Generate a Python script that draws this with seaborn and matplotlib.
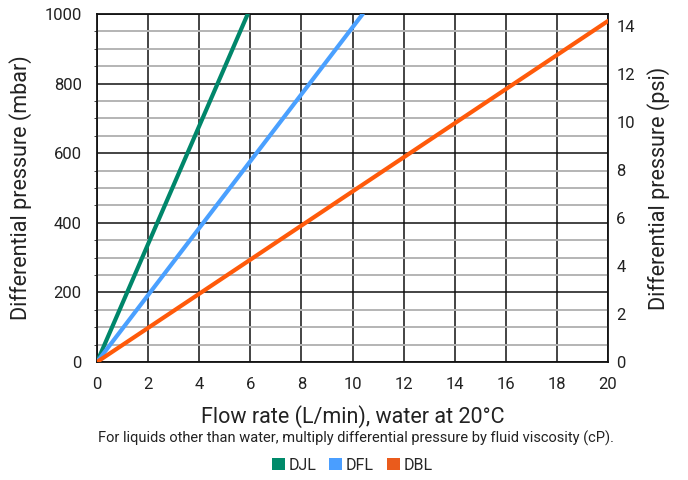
import matplotlib
matplotlib.use("Agg")
import matplotlib.pyplot as plt
import seaborn as sns
import pandas as pd
from matplotlib.patches import Patch
from matplotlib.ticker import MultipleLocator

series = ["DJL", "DFL", "DBL"]
flow_start = [0, 0, 0]
flow_end = [5.9, 10.4, 20]
dp_start = [0, 0, 0]
dp_end = [1000, 1000, 980]
colors = ["#00866a", "#4aa0ff", "#ff5a0a"]
legend_colors = ["#008a6a", "#4a9eff", "#ea5b1c"]

rows = []
for s, x0, x1, y0, y1 in zip(series, flow_start, flow_end, dp_start, dp_end):
    rows.append({"series": s, "flow": x0, "dp": y0})
    rows.append({"series": s, "flow": x1, "dp": y1})
df = pd.DataFrame(rows)

sns.set_style("white")
plt.rcParams["font.family"] = ["Roboto", "DejaVu Sans"]

fig = plt.figure(figsize=(6.88, 4.8), dpi=100)
ax = fig.add_axes([97/688, 1-362/480, (608-97)/688, (362-14)/480])

ax.set_xlim(0, 20)
ax.set_ylim(0, 1000)
ax.xaxis.set_major_locator(MultipleLocator(2))
ax.yaxis.set_major_locator(MultipleLocator(200))
ax.yaxis.set_minor_locator(MultipleLocator(50))
ax.grid(which="minor", axis="y", color="#b4b4b4", lw=1.4, zorder=0)
ax.grid(which="major", axis="both", color="#111111", lw=1.1, zorder=1)
ax.set_axisbelow(True)

sns.lineplot(data=df, x="flow", y="dp", hue="series", palette=dict(zip(series, colors)),
             lw=3.0, ax=ax, legend=False, zorder=3)

for sp in ax.spines.values():
    sp.set_color("#111111")
    sp.set_linewidth(1.3)
ax.tick_params(axis="y", length=0, labelsize=12, colors="#222222", pad=11)
ax.tick_params(axis="x", length=0, labelsize=12, colors="#222222", pad=11)
ax.set_xlabel("Flow rate (L/min), water at 20°C", fontsize=15.5, color="#222222", labelpad=9)
ax.set_ylabel("Differential pressure (mbar)", fontsize=15.5, color="#222222", labelpad=9)

ax2 = ax.twinx()
ax2.set_ylim(0, 1000/68.9476)
ax2.yaxis.set_major_locator(MultipleLocator(2))
ax2.tick_params(axis="y", length=0, labelsize=12, colors="#222222", pad=6)
ax2.set_ylabel("Differential pressure (psi)", fontsize=15.5, color="#222222", labelpad=9)
for sp in ax2.spines.values():
    sp.set_visible(False)

fig.text(0.517, 1-438/480, "For liquids other than water, multiply differential pressure by fluid viscosity (cP).",
         ha="center", va="center", fontsize=10.5, color="#222222")

handles = [Patch(facecolor=c, edgecolor="none") for c in legend_colors]
fig.legend(handles, series, loc="center", bbox_to_anchor=(0.512, 1-465/480), ncol=3, frameon=False,
           fontsize=11.5, handlelength=0.8, handleheight=0.8, handletextpad=0.25, columnspacing=0.8)

fig.savefig("out.png", dpi=100)
